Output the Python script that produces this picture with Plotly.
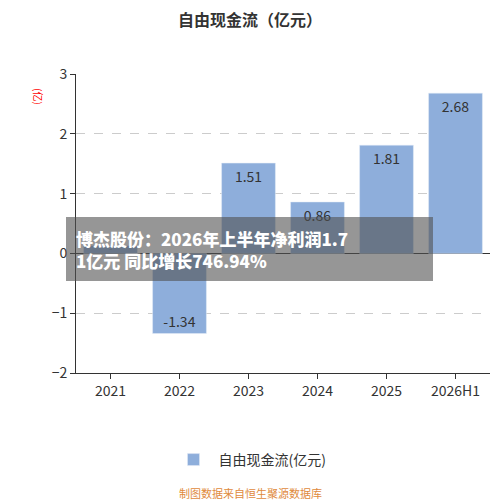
import plotly.graph_objects as go

categories = ["2021", "2022", "2023", "2024", "2025", "2026H1"]
values = [0.13, -1.34, 1.51, 0.86, 1.81, 2.68]
labels = ["0.13", "-1.34", "1.51", "0.86", "1.81", "2.68"]

W = H = 492   # page body has an 8px margin
OFF = 8
L, R, T, B = 76 - OFF, 10, 74 - OFF, 492 - (373 - OFF)
pw, ph = W - L - R, H - T - B

def px(x):
    return (x - OFF - L) / pw

def py(y):
    return (H - B - (y - OFF)) / ph

fig = go.Figure(go.Bar(
    x=categories, y=values, text=labels, textposition="inside",
    insidetextanchor="end", textfont=dict(color="#333", size=14),
    marker=dict(color="#8eaedb"), name="自由现金流(亿元)", showlegend=True,
    width=0.78))

fig.update_layout(
    width=W, height=H, plot_bgcolor="white", paper_bgcolor="white",
    font=dict(family="Noto Sans CJK SC", color="#333"),
    margin=dict(l=L, r=R, t=T, b=B, autoexpand=False),
    title=dict(text="自由现金流（亿元）", x=px(250), xref="paper", xanchor="center",
               y=1 - (15 - OFF) / H, yanchor="top",
               font=dict(size=16, color="#333", weight=700)),
    xaxis=dict(showline=True, linecolor="#333", ticks="outside", tickcolor="#333",
               tickfont=dict(size=14, color="#333"), automargin=False),
    yaxis=dict(range=[-2, 3], dtick=1, showline=True, linecolor="#333", ticks="outside",
               tickcolor="#333", gridcolor="#ccc", griddash="dash", zeroline=True,
               zerolinecolor="#333", zerolinewidth=1, tickfont=dict(size=14, color="#333"),
               automargin=False),
    legend=dict(orientation="h", x=px(250), xanchor="center", y=py(460), yanchor="middle",
                font=dict(size=14), itemwidth=40),
    annotations=[
        dict(text="(亿)", textangle=90, x=px(38), y=py(96), xref="paper", yref="paper",
             xanchor="center", yanchor="middle", showarrow=False, font=dict(color="red", size=10)),
        dict(text="制图数据来自恒生聚源数据库", x=px(250), y=py(493), xref="paper", yref="paper",
             xanchor="center", yanchor="middle", showarrow=False,
             font=dict(color="#e08a3c", size=11)),
    ],
)
fig.add_shape(type="rect", xref="paper", yref="paper",
              x0=px(66), x1=px(433), y0=py(281), y1=py(217),
              fillcolor="rgba(80,80,80,0.6)", line_width=0, layer="above")
fig.add_annotation(text="博杰股份：2026年上半年净利润1.7<br>1亿元 同比增长746.94%",
                   xref="paper", yref="paper", x=px(74), y=py(249),
                   xanchor="left", yanchor="middle", align="left", showarrow=False,
                   font=dict(color="white", size=17, weight=900))
fig.write_html("out.html")
